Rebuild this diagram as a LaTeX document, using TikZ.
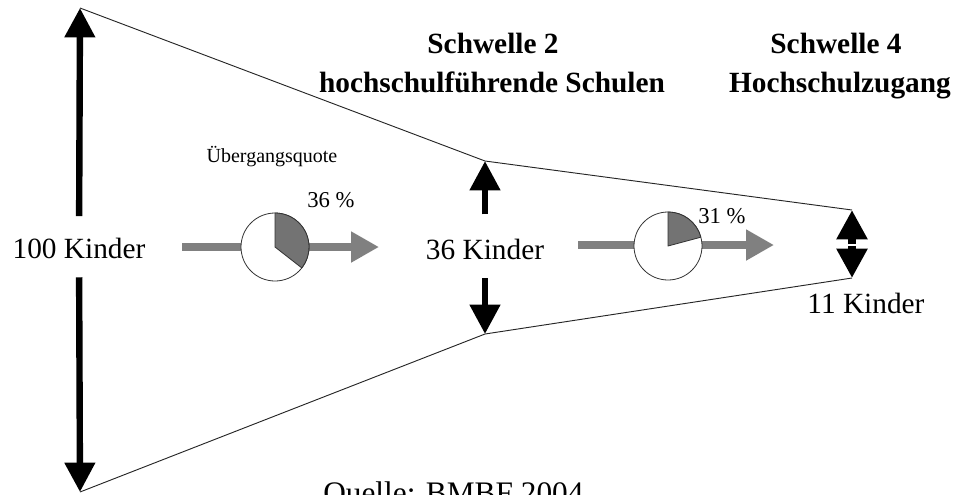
\documentclass[tikz,border=0pt]{standalone}
\usepackage{fontspec}
\setmainfont{Liberation Serif}
\usetikzlibrary{arrows.meta}

\tikzset{
  funnel/.style={draw=black!85,line width=0.7pt},
  bigarrow/.style={line width=4.8pt,-{Triangle[width=22pt,length=22pt]}},
  flowarrow/.style={draw=black!50,line width=6pt,-{Triangle[width=22pt,length=21pt]}},
  kinder/.style={font=\fontsize{22}{26}\selectfont,inner sep=0pt},
  schwelle/.style={font=\bfseries\fontsize{22}{26}\selectfont,anchor=base,inner sep=0pt},
  quote/.style={font=\fontsize{17}{20}\selectfont,inner sep=0pt},
  pie/.style={circle,draw=black!80,line width=0.6pt,fill=white,minimum size=51pt,inner sep=0pt,outer sep=0pt},
  slice/.style={fill=black!55,draw=black!80,line width=0.6pt}
}

\begin{document}
\begin{tikzpicture}
    [line cap=butt,line join=round,x=0.75pt,y=-0.75pt]
\clip (0,0) rectangle (953,494);
%corners of the funnel
\coordinate (tl) at (80,8);
\coordinate (bl) at (80,492);
\coordinate (tm) at (485,161);
\coordinate (bm) at (485,334);
\coordinate (tr) at (852,210);
\coordinate (br) at (852,278);
\coordinate (r11) at (852,245);
\draw[funnel] (tl) -- (tm) -- (tr);
\draw[funnel] (bl) -- (bm) -- (br);

%headings
\node[schwelle] (s2) at (493,53) {Schwelle 2};
\node[schwelle] (s2b) at (492,92) {hochschulführende Schulen};
\node[schwelle] (s4) at (836,53) {Schwelle 4};
\node[schwelle] (s4b) at (840,92) {Hochschulzugang};

%number of children
\node[kinder] (k100) at (79,248) {100 Kinder};
\node[kinder] (k36) at (485,249) {36 Kinder};
\node[kinder] (k11) at (866,303) {11 Kinder};
\draw[bigarrow,shorten <=16pt] (k100) -- (tl);
\draw[bigarrow,shorten <=14pt] (k100) -- (bl);
\draw[bigarrow,shorten <=18pt] (k36) -- (tm);
\draw[bigarrow,shorten <=14pt] (k36) -- (bm);
\draw[bigarrow,line width=6pt,shorten <=0.6pt] (r11) -- (tr);
\draw[bigarrow,line width=6pt,shorten <=0.6pt] (r11) -- (br);

%transition rates
\node[quote,font=\fontsize{15}{18}\selectfont] (uq) at (272,157) {Übergangsquote};
\coordinate (g1s) at (182,247);
\coordinate (g1e) at (379,247);
\draw[flowarrow] (g1s) -- (g1e);
\node[pie] (pie1) at (275,247) {};
\filldraw[slice] (pie1.center) -- (pie1.north) arc[start angle=90,end angle=-38,radius=25.5pt] -- cycle;
\node[quote] (p36) at (331,200) {36 \%};

\coordinate (g2s) at (578,245);
\coordinate (g2e) at (774,245);
\draw[flowarrow] (g2s) -- (g2e);
\node[pie] (pie2) at (668,246) {};
\filldraw[slice] (pie2.center) -- (pie2.north) arc[start angle=90,end angle=15,radius=25.5pt] -- cycle;
\node[quote] (p31) at (722,216) {31 \%};

%source
\node[font=\fontsize{23.5}{26}\selectfont,anchor=base west,inner sep=0pt] (src) at (323,503) {Quelle: BMBF 2004};
\end{tikzpicture}
\end{document}
